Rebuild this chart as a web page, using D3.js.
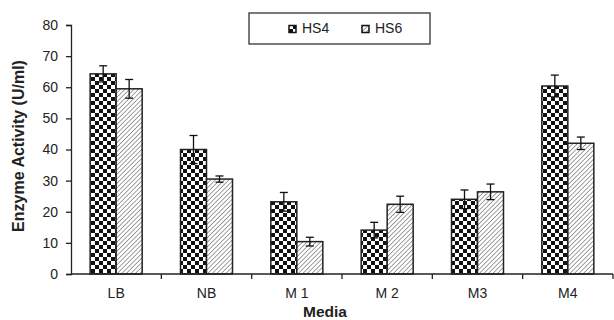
<!DOCTYPE html>
<html>
<head>
<meta charset="utf-8">
<script src="https://cdn.jsdelivr.net/npm/d3@7"></script>
<style>
  body { margin: 0; background: #fff; }
  text { font-family: "Liberation Sans", Arial, sans-serif; }
</style>
</head>
<body>
<svg id="chart" width="614" height="320"></svg>
<script>
// data
let media = ['LB', 'NB', 'M 1', 'M 2', 'M3', 'M4'];
let series = ['HS4', 'HS6'];
let hs4 = [64.3, 40, 23.2, 14.1, 24, 60.4];
let hs6 = [59.5, 30.5, 10.4, 22.4, 26.4, 42];
let hs4Err = [2.6, 4.5, 3, 2.5, 3, 3.5];
let hs6Err = [3, 1, 1.4, 2.6, 2.5, 2];
let yTicks = [0, 10, 20, 30, 40, 50, 60, 70, 80];

let margin = { top: 25, right: 1, bottom: 46, left: 71 };
let width = 614 - margin.left - margin.right;
let height = 320 - margin.top - margin.bottom;

let svg = d3.select('#chart');

// fill patterns
let defs = svg.append('defs');
let checker = defs.append('pattern')
  .attr('id', 'checker')
  .attr('patternUnits', 'userSpaceOnUse')
  .attr('width', 8).attr('height', 8);
checker.append('rect').attr('width', 8).attr('height', 8).attr('fill', '#fff');
checker.append('rect').attr('width', 4).attr('height', 4).attr('fill', '#111');
checker.append('rect').attr('x', 4).attr('y', 4).attr('width', 4).attr('height', 4).attr('fill', '#111');

let hatch = defs.append('pattern')
  .attr('id', 'hatch')
  .attr('patternUnits', 'userSpaceOnUse')
  .attr('width', 3.2).attr('height', 3.2)
  .attr('patternTransform', 'rotate(45)');
hatch.append('rect').attr('width', 3.2).attr('height', 3.2).attr('fill', '#fff');
hatch.append('line').attr('x1', 0).attr('y1', 0).attr('x2', 0).attr('y2', 3.2)
  .attr('stroke', '#444').attr('stroke-width', 1);

let g = svg.append('g')
  .attr('transform', 'translate(' + margin.left + ',' + margin.top + ')');

let x0 = d3.scaleBand().domain(media).range([0, width]).padding(0);
let x1 = d3.scaleBand().domain(series).range([0, x0.bandwidth()])
  .paddingInner(0).paddingOuter(0.737);
let y = d3.scaleLinear().domain([0, 80]).range([height, 0]);

let fills = { HS4: 'url(#checker)', HS6: 'url(#hatch)' };

let rows = [];
media.forEach(function (m, i) {
  rows.push({ media: m, key: 'HS4', value: hs4[i], err: hs4Err[i] });
  rows.push({ media: m, key: 'HS6', value: hs6[i], err: hs6Err[i] });
});

// bars
g.selectAll('.bar')
  .data(rows)
  .enter()
  .append('rect')
  .attr('class', 'bar')
  .attr('x', d => x0(d.media) + x1(d.key))
  .attr('y', d => y(d.value))
  .attr('width', x1.bandwidth())
  .attr('height', d => y(0) - y(d.value))
  .attr('fill', d => fills[d.key])
  .attr('stroke', '#222')
  .attr('stroke-width', 1.5);

// error bars
let err = g.selectAll('.err')
  .data(rows)
  .enter()
  .append('g')
  .attr('class', 'err')
  .attr('transform', d => 'translate(' + (x0(d.media) + x1(d.key) + x1.bandwidth() / 2) + ',0)');
err.append('line')
  .attr('y1', d => y(d.value - d.err)).attr('y2', d => y(d.value + d.err))
  .attr('stroke', '#111').attr('stroke-width', 1.3);
err.append('line')
  .attr('x1', -4).attr('x2', 4)
  .attr('y1', d => y(d.value + d.err)).attr('y2', d => y(d.value + d.err))
  .attr('stroke', '#111').attr('stroke-width', 1.3);
err.append('line')
  .attr('x1', -4).attr('x2', 4)
  .attr('y1', d => y(d.value - d.err)).attr('y2', d => y(d.value - d.err))
  .attr('stroke', '#111').attr('stroke-width', 1.3);

// y axis
let yAxis = g.append('g').attr('class', 'axis y')
  .call(d3.axisLeft(y).tickValues(yTicks).tickSize(5).tickPadding(8));
yAxis.select('.domain').attr('stroke', '#222').attr('stroke-width', 1.3);
yAxis.selectAll('.tick line').attr('stroke', '#222').attr('stroke-width', 1.3);
yAxis.selectAll('text').attr('font-size', 14).attr('fill', '#222')
  .style('font-family', '"Liberation Sans", Arial, sans-serif');

// x axis with ticks between categories
let xAxis = g.append('g').attr('class', 'axis x')
  .attr('transform', 'translate(0,' + height + ')');
xAxis.append('line').attr('x1', 0).attr('x2', width)
  .attr('stroke', '#222').attr('stroke-width', 1.3);
xAxis.selectAll('.sep')
  .data(media)
  .enter()
  .append('line')
  .attr('class', 'sep')
  .attr('x1', d => x0(d) + x0.bandwidth()).attr('x2', d => x0(d) + x0.bandwidth())
  .attr('y1', 0).attr('y2', 5)
  .attr('stroke', '#222').attr('stroke-width', 1.3);
xAxis.selectAll('.lbl')
  .data(media)
  .enter()
  .append('text')
  .attr('class', 'lbl')
  .attr('x', d => x0(d) + x0.bandwidth() / 2)
  .attr('y', 23.5)
  .attr('text-anchor', 'middle')
  .attr('font-size', 14)
  .attr('fill', '#222')
  .text(d => d);

// axis titles
svg.append('text')
  .attr('x', 325)
  .attr('y', 317)
  .attr('text-anchor', 'middle')
  .attr('font-size', 15.5)
  .attr('font-weight', 'bold')
  .attr('fill', '#222')
  .text('Media');

svg.append('text')
  .attr('transform', 'translate(23.5,146) rotate(-90)')
  .attr('text-anchor', 'middle')
  .attr('font-size', 16)
  .attr('font-weight', 'bold')
  .attr('fill', '#222')
  .text('Enzyme Activity (U/ml)');

// legend
let legend = svg.append('g').attr('transform', 'translate(249,13)');
legend.append('rect')
  .attr('width', 181).attr('height', 31)
  .attr('fill', '#fff').attr('stroke', '#333').attr('stroke-width', 1.3);
let item = legend.selectAll('.item')
  .data(series)
  .enter()
  .append('g')
  .attr('class', 'item')
  .attr('transform', (d, i) => 'translate(' + (40 + i * 73) + ',0)');
item.append('rect')
  .attr('y', 12.5).attr('width', 7).attr('height', 7)
  .attr('fill', d => fills[d])
  .attr('stroke', '#111').attr('stroke-width', 1.5);
item.append('text')
  .attr('x', 13).attr('y', 19.8)
  .attr('font-size', 14)
  .attr('fill', '#222')
  .text(d => d);
</script>
</body>
</html>
